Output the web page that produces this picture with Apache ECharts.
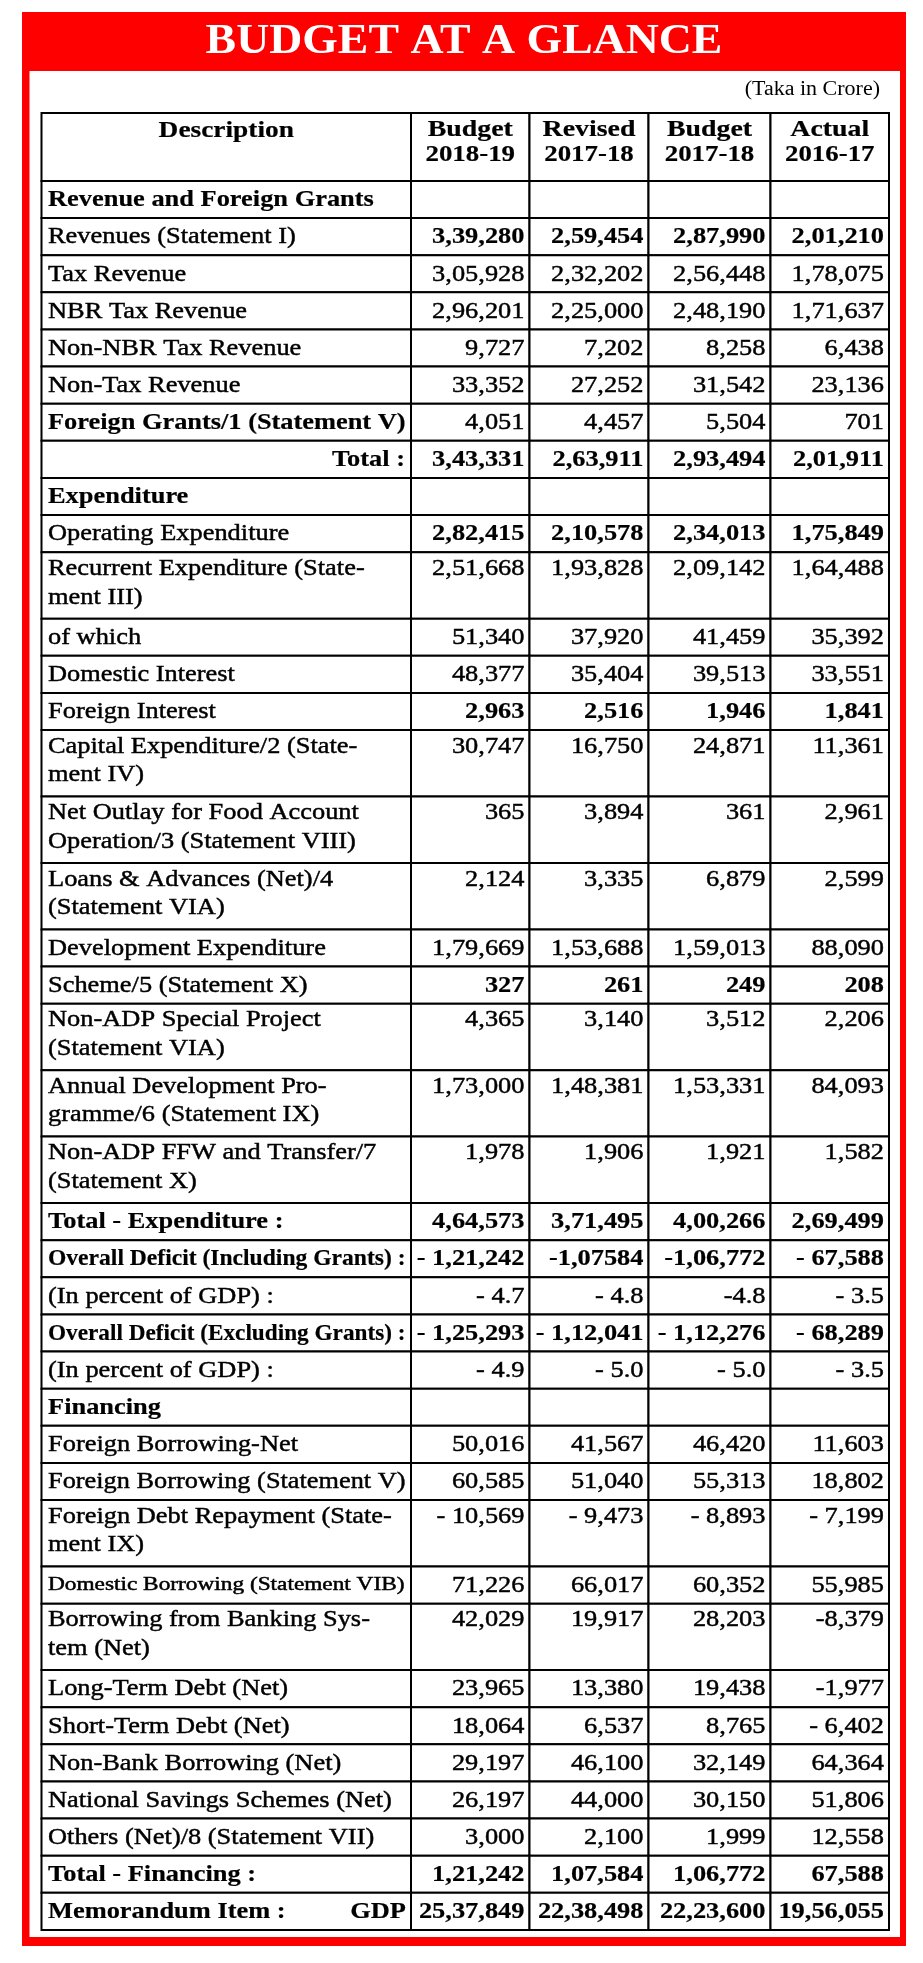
<!DOCTYPE html>
<html>
<head>
<meta charset="utf-8">
<script src="https://cdn.jsdelivr.net/npm/echarts@6/dist/echarts.min.js"></script>
<style>
html,body{margin:0;padding:0;background:#ffffff;}
#chart{width:923px;height:1963px;}
</style>
</head>
<body>
<div id="chart"></div>
<script>
// ================= DATA =================
const title = 'BUDGET AT A GLANCE';
const unitNote = '(Taka in Crore)';
const headerDescription = 'Description';
const columnHeaders = [
  ['Budget', '2018-19'],
  ['Revised', '2017-18'],
  ['Budget', '2017-18'],
  ['Actual', '2016-17']
];

const descriptions = [
  'Revenue and Foreign Grants',
  'Revenues (Statement I)',
  'Tax Revenue',
  'NBR Tax Revenue',
  'Non-NBR Tax Revenue',
  'Non-Tax Revenue',
  'Foreign Grants/1 (Statement V)',
  'Total :',
  'Expenditure',
  'Operating Expenditure',
  'Recurrent Expenditure (State-\nment III)',
  'of which',
  'Domestic Interest',
  'Foreign Interest',
  'Capital Expenditure/2 (State-\nment IV)',
  'Net Outlay for Food Account\nOperation/3 (Statement VIII)',
  'Loans & Advances (Net)/4\n(Statement VIA)',
  'Development Expenditure',
  'Scheme/5 (Statement X)',
  'Non-ADP Special Project\n(Statement VIA)',
  'Annual Development Pro-\ngramme/6 (Statement IX)',
  'Non-ADP FFW and Transfer/7\n(Statement X)',
  'Total - Expenditure :',
  'Overall Deficit (Including Grants) :',
  '(In percent of GDP) :',
  'Overall Deficit (Excluding Grants) :',
  '(In percent of GDP) :',
  'Financing',
  'Foreign Borrowing-Net',
  'Foreign Borrowing (Statement V)',
  'Foreign Debt Repayment (State-\nment IX)',
  'Domestic Borrowing (Statement VIB)',
  'Borrowing from Banking Sys-\ntem (Net)',
  'Long-Term Debt (Net)',
  'Short-Term Debt (Net)',
  'Non-Bank Borrowing (Net)',
  'National Savings Schemes (Net)',
  'Others (Net)/8 (Statement VII)',
  'Total - Financing :',
  ['Memorandum Item :', 'GDP']
];

const budget2018_19 = [
  null, 339280, 305928, 296201, 9727, 33352, 4051, 343331,
  null, 282415, 251668, 51340, 48377, 2963, 30747, 365, 2124, 179669, 327, 4365, 173000, 1978,
  464573, -121242, -4.7, -125293, -4.9,
  null, 50016, 60585, -10569, 71226, 42029, 23965, 18064, 29197, 26197, 3000, 121242, 2537849
];
const revised2017_18 = [
  null, 259454, 232202, 225000, 7202, 27252, 4457, 263911,
  null, 210578, 193828, 37920, 35404, 2516, 16750, 3894, 3335, 153688, 261, 3140, 148381, 1906,
  371495, -107584, -4.8, -112041, -5.0,
  null, 41567, 51040, -9473, 66017, 19917, 13380, 6537, 46100, 44000, 2100, 107584, 2238498
];
const budget2017_18 = [
  null, 287990, 256448, 248190, 8258, 31542, 5504, 293494,
  null, 234013, 209142, 41459, 39513, 1946, 24871, 361, 6879, 159013, 249, 3512, 153331, 1921,
  400266, -106772, -4.8, -112276, -5.0,
  null, 46420, 55313, -8893, 60352, 28203, 19438, 8765, 32149, 30150, 1999, 106772, 2223600
];
const actual2016_17 = [
  null, 201210, 178075, 171637, 6438, 23136, 701, 201911,
  null, 175849, 164488, 35392, 33551, 1841, 11361, 2961, 2599, 88090, 208, 2206, 84093, 1582,
  269499, -67588, -3.5, -68289, -3.5,
  null, 11603, 18802, -7199, 55985, -8379, -1977, -6402, 64364, 51806, 12558, 67588, 1956055
];
const valueColumns = [budget2018_19, revised2017_18, budget2017_18, actual2016_17];
const percentRows = [24, 26];
// cells printed with the minus sign set tight (no space), and one as printed in the source
const printedAs = { '23-1': '-1,07584', '23-2': '-1,06,772', '24-2': '-4.8', '32-3': '-8,379', '33-3': '-1,977' };

// ================= STYLE (kept apart from data) =================
const rowStyle = [
  'section', 'boldValues', 'plain', 'plain', 'plain', 'plain', 'boldLabel', 'total',
  'section', 'boldValues', 'plain', 'plain', 'plain', 'boldValues', 'plain', 'plain', 'plain', 'plain',
  'boldValues', 'plain', 'plain', 'plain',
  'bold', 'bold', 'plain', 'bold', 'plain',
  'section', 'plain', 'plain', 'plain', 'small', 'plain', 'plain', 'plain', 'plain', 'plain', 'plain',
  'bold', 'bold'
];
const FONT = '"Liberation Serif", "Times New Roman", serif';
const colWidths = [369.5, 118.5, 119, 122, 118.5];
const HEADER_UNITS = 1.83, DOUBLE_UNITS = 1.79;

// ================= BUILD =================
const colEdges = [0];
colWidths.forEach(w => colEdges.push(colEdges[colEdges.length - 1] + w));
const rowEdges = [0, HEADER_UNITS];
descriptions.forEach(d => {
  const two = (typeof d === 'string') && d.indexOf('\n') >= 0;
  rowEdges.push(rowEdges[rowEdges.length - 1] + (two ? DOUBLE_UNITS : 1));
});
const totalUnits = rowEdges[rowEdges.length - 1];

const measureCtx = document.createElement('canvas').getContext('2d');
function textWidth(str, font) { measureCtx.font = font; return measureCtx.measureText(str).width; }

function indian(n) {
  const s = String(n);
  if (s.length <= 3) return s;
  const last3 = s.slice(-3);
  const rest = s.slice(0, -3).replace(/\B(?=(\d{2})+(?!\d))/g, ',');
  return rest + ',' + last3;
}
function formatValue(v, rowIdx, colIdx) {
  if (v === null || v === undefined) return '';
  const key = rowIdx + '-' + colIdx;
  if (printedAs[key]) return printedAs[key];
  const neg = v < 0;
  const a = Math.abs(v);
  const body = percentRows.indexOf(rowIdx) >= 0 ? a.toFixed(1) : indian(a);
  return (neg ? '- ' : '') + body;
}

function mkText(str, x, y, align, bold, size, maxScale, maxW, color) {
  const font = (bold ? 'bold ' : '') + size + 'px ' + FONT;
  const w = textWidth(str, font);
  let s = maxScale;
  if (maxW && w * s > maxW) s = maxW / w;
  const fill = color || '#000';
  return {
    type: 'text', x: x, y: y, scaleX: s, scaleY: 1,
    style: {
      text: str, font: font, fill: fill,
      stroke: fill, lineWidth: bold ? 0.2 : 0.45,
      textAlign: align, align: align,
      textVerticalAlign: 'middle', verticalAlign: 'middle'
    },
    z2: 10
  };
}

const cellData = [];
for (let r = 0; r <= descriptions.length; r++) {
  for (let c = 0; c < colWidths.length; c++) cellData.push([c, r]);
}

function renderCell(params, api) {
  const c = api.value(0), r = api.value(1);
  const p0 = api.coord([colEdges[c], rowEdges[r]]);
  const p1 = api.coord([colEdges[c + 1], rowEdges[r + 1]]);
  const x = p0[0], y = Math.min(p0[1], p1[1]);
  const w = p1[0] - p0[0], h = Math.abs(p1[1] - p0[1]);
  const children = [{
    type: 'rect', shape: { x: x, y: y, width: w, height: h },
    style: { fill: '#fff', stroke: '#000', lineWidth: 2 }, z2: 1
  }];
  const padL = 6.5, padR = 5;
  if (r === 0) {
    if (c === 0) {
      children.push(mkText(headerDescription, x + w / 2, y + 18, 'center', true, 24, 1.14, w - 10));
    } else {
      const hd = columnHeaders[c - 1];
      children.push(mkText(hd[0], x + w / 2, y + 17, 'center', true, 24, 1.16, w - 8));
      children.push(mkText(hd[1], x + w / 2, y + 42, 'center', true, 24, 1.12, w - 8));
    }
    return { type: 'group', children: children };
  }
  const i = r - 1;
  const st = rowStyle[i];
  const desc = descriptions[i];
  const multi = (typeof desc === 'string') && desc.indexOf('\n') >= 0;
  const firstY = multi ? y + 16.5 : y + h / 2 + 0.5;
  if (c === 0) {
    const labelBold = st === 'section' || st === 'boldLabel' || st === 'total' || st === 'bold';
    if (Array.isArray(desc)) {
      children.push(mkText(desc[0], x + padL, firstY, 'left', labelBold, 24, 1.1, w - 70));
      children.push(mkText(desc[1], x + w - padR, firstY, 'right', labelBold, 24, 1.1, 80));
    } else if (st === 'total') {
      children.push(mkText(desc, x + w - padR - 1, firstY, 'right', true, 24, 1.1, w - 12));
    } else if (st === 'small') {
      const f = '18px ' + FONT;
      const tw = textWidth(desc, f);
      const t = mkText(desc, x + padL, firstY, 'left', false, 18, 1, 0);
      t.scaleX = (w - 13) / tw;
      children.push(t);
    } else {
      const lines = desc.split('\n');
      lines.forEach((ln, k) => {
        children.push(mkText(ln, x + padL, firstY + k * 28.5, 'left', labelBold, 24, 1.1, w - 12));
      });
    }
  } else {
    const v = valueColumns[c - 1][i];
    const str = formatValue(v, i, c - 1);
    if (str) {
      const valBold = st === 'boldValues' || st === 'total' || st === 'bold';
      children.push(mkText(str, x + w - padR, firstY, 'right', valBold, 24, 1.1, w - 8));
    }
  }
  return { type: 'group', children: children };
}

const chart = echarts.init(document.getElementById('chart'), null, { renderer: 'canvas', width: 923, height: 1963 });

const option = {
  backgroundColor: '#ffffff',
  animation: false,
  graphic: [
    { type: 'rect', z: -10, shape: { x: 22, y: 12, width: 884, height: 1934 }, style: { fill: '#ff0000' } },
    { type: 'rect', z: -9, shape: { x: 29.5, y: 71, width: 870.5, height: 1866 }, style: { fill: '#ffffff' } },
    {
      type: 'text', z: -8, x: 464, y: 42, scaleX: 1.09,
      style: { text: title, font: 'bold 42px ' + FONT, fill: '#ffffff',
        textAlign: 'center', align: 'center', textVerticalAlign: 'middle', verticalAlign: 'middle' }
    },
    {
      type: 'text', z: -8, x: 880, y: 90, scaleX: 1.1,
      style: { text: unitNote, font: '20px ' + FONT, fill: '#000',
        textAlign: 'right', align: 'right', textVerticalAlign: 'middle', verticalAlign: 'middle' }
    }
  ],
  grid: { left: 41.5, top: 113, width: colEdges[colEdges.length - 1], height: 1817, containLabel: false, outerBoundsMode: 'none' },
  xAxis: { type: 'value', min: 0, max: colEdges[colEdges.length - 1], show: false },
  yAxis: { type: 'value', min: 0, max: totalUnits, inverse: true, show: false },
  series: [{
    type: 'custom',
    renderItem: renderCell,
    data: cellData,
    encode: { x: 0, y: 1 },
    clip: false,
    silent: true
  }]
};
chart.setOption(option);
</script>
</body>
</html>
